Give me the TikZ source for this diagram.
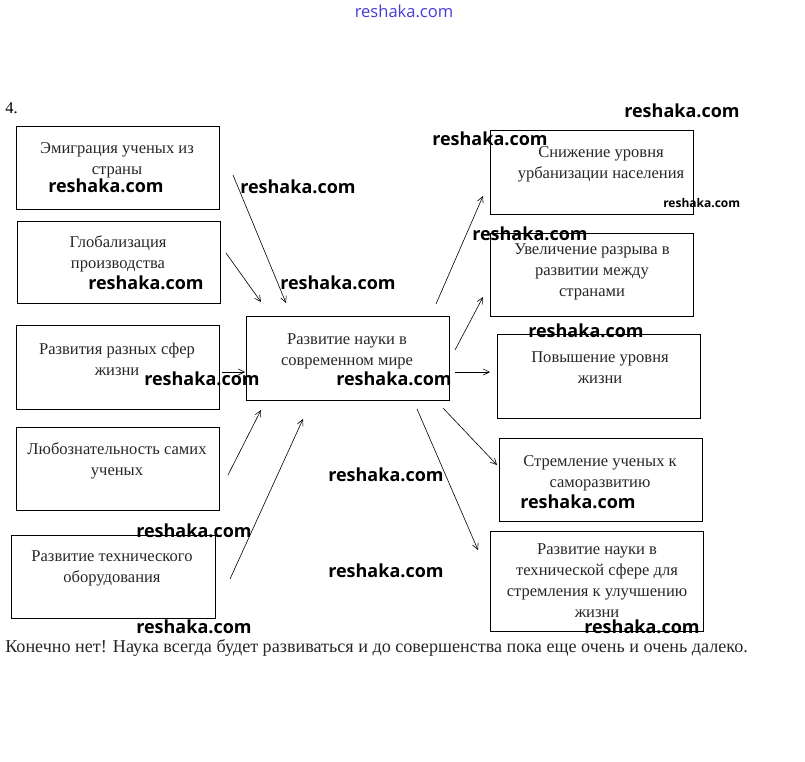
\documentclass[tikz,border=0pt]{standalone}
\usepackage{fontspec}
\setmainfont{Liberation Serif}
\newfontfamily\wmfont{Open Sans}
\usetikzlibrary{fit,arrows.meta}
\definecolor{linkblue}{RGB}{70,60,215}
\begin{document}
\begin{tikzpicture}[x=0.75pt,y=-0.75pt,
  box/.style={draw=black,line width=0.7pt,inner sep=0pt},
  lbl/.style={align=center,inner sep=0pt,font=\fontsize{12.4}{15.75}\selectfont,text=black!85},
  arr/.style={line width=0.45pt,-{Straight Barb[length=4.5pt,width=4.5pt]}},
  wm/.style={anchor=west,inner sep=0pt,font=\wmfont\bfseries\fontsize{13.5}{14}\selectfont},
  wms/.style={anchor=west,inner sep=0pt,font=\wmfont\bfseries\fontsize{9}{10}\selectfont}]
\useasboundingbox (0,0) rectangle (805,761);
% boxes
\node[box,fit={(16,126)(219,209)}] (l1) {};
\node[box,fit={(17,221)(220,303)}] (l2) {};
\node[box,fit={(16,325)(219,409)}] (l3) {};
\node[box,fit={(16,427)(219,510)}] (l4) {};
\node[box,fit={(11,535)(215,618)}] (l5) {};
\node[box,fit={(246,316)(449,400)}] (c) {};
\node[box,fit={(490,130)(693,214)}] (r1) {};
\node[box,fit={(490,233)(693,316)}] (r2) {};
\node[box,fit={(497,334)(700,418)}] (r3) {};
\node[box,fit={(499,438)(702,521)}] (r4) {};
\node[box,fit={(490,531)(703,631)}] (r5) {};
% labels
\node[lbl] (tl1) at (117,160) {Эмиграция ученых из\\страны};
\node[lbl] (tl2) at (118,254) {Глобализация\\производства};
\node[lbl] (tl3) at (117,359) {Развития разных сфер\\жизни};
\node[lbl] (tl4) at (117,461) {Любознательность самих\\ученых};
\node[lbl] (tl5) at (112,568) {Развитие технического\\оборудования};
\node[lbl] (tc) at (347,351) {Развитие науки в\\современном мире};
\node[lbl] (tr1) at (601,164) {Снижение уровня\\урбанизации населения};
\node[lbl] (tr2) at (592,272) {Увеличение разрыва в\\развитии между\\странами};
\node[lbl] (tr3) at (600,368) {Повышение уровня\\жизни};
\node[lbl] (tr4) at (600,473) {Стремление ученых к\\саморазвитию};
\node[lbl] (tr5) at (597,581) {Развитие науки в\\технической сфере для\\стремления к улучшению\\жизни};
% arrow endpoints
\coordinate (a1s) at (233,175); \coordinate (a1e) at (286,303);
\coordinate (a2s) at (226,253); \coordinate (a2e) at (261,302);
\coordinate (a3s) at (222,372); \coordinate (a3e) at (245,372);
\coordinate (a4s) at (228,475); \coordinate (a4e) at (261,410);
\coordinate (a5s) at (230,579); \coordinate (a5e) at (303,419);
\coordinate (b1s) at (436,304); \coordinate (b1e) at (483,196);
\coordinate (b2s) at (455,350); \coordinate (b2e) at (483,297);
\coordinate (b3s) at (455,372); \coordinate (b3e) at (490,372);
\coordinate (b4s) at (443,408); \coordinate (b4e) at (497,465);
\coordinate (b5s) at (417,409); \coordinate (b5e) at (478,550);
\foreach \p in {a1,a2,a3,a4,a5,b1,b2,b3,b4,b5} \draw[arr] (\p s) -- (\p e);
% other texts
\node[anchor=west,inner sep=0pt,font=\fontsize{12.4}{14}\selectfont] (num) at (5,108) {4.};
\node[anchor=west,inner sep=0pt,font=\fontsize{13.6}{15}\selectfont,text=black!85] (answer) at (5,648) {Конечно нет! Наука всегда будет развиваться и до совершенства пока еще очень и очень далеко.};
\node[inner sep=0pt,font=\wmfont\fontsize{12.4}{14}\selectfont,text=linkblue] (hdr) at (404,11) {reshaka.com};
% watermarks
\foreach \x/\y [count=\i] in {624/111,432/139,48/186,240/187,472/234,88/283,280/283,528/331,144/379,336/379,328/475,520/502,136/531,328/571,136/627,584/627}
  \node[wm] (wm\i) at (\x,\y) {reshaka.com};
\node[wms] (wmsmall) at (663,203) {reshaka.com};
\end{tikzpicture}
\end{document}
